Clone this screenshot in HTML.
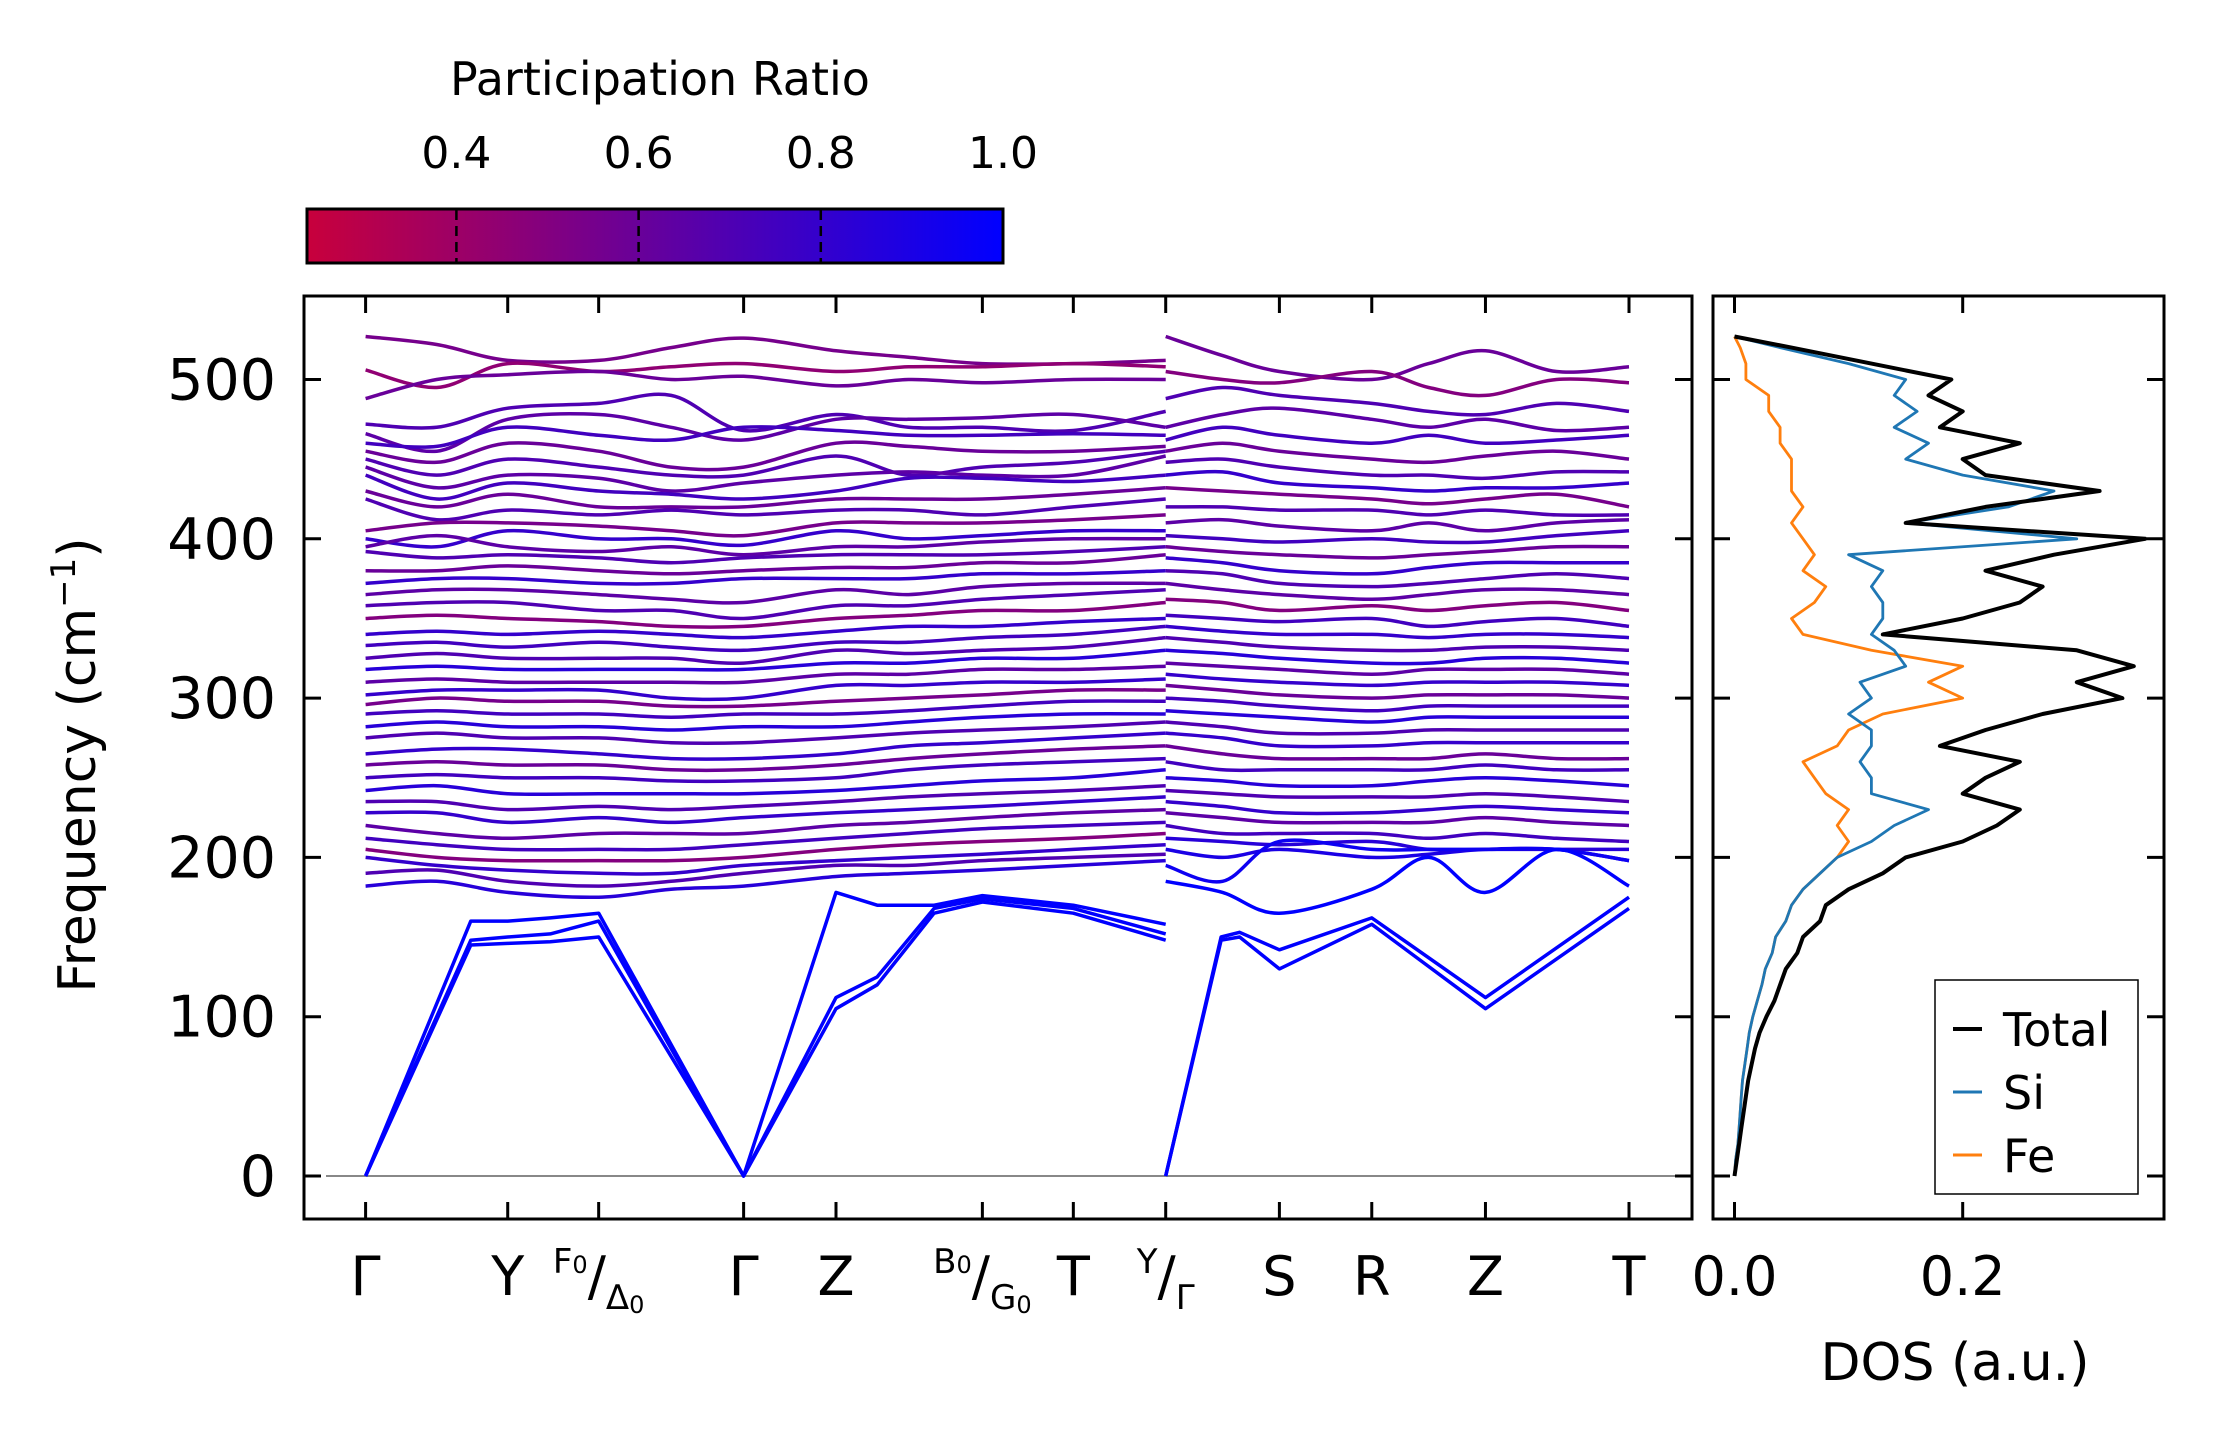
<!DOCTYPE html>
<html><head><meta charset="utf-8"><style>
html,body{margin:0;padding:0;background:#fff;}
svg{display:block;font-family:"DejaVu Sans","Liberation Sans",sans-serif;}
</style></head><body>
<svg id="fig" width="2222" height="1455" viewBox="0 0 2222 1455" xmlns="http://www.w3.org/2000/svg">
<defs>
<linearGradient id="cmap" x1="0" x2="1" y1="0" y2="0">
<stop offset="0" stop-color="rgb(200,0,60)"/><stop offset="1" stop-color="rgb(0,0,255)"/>
</linearGradient>
<clipPath id="clipMain"><rect x="304" y="296" width="1388" height="922"/></clipPath>
<clipPath id="clipDos"><rect x="1713" y="296" width="451" height="922"/></clipPath>
</defs>
<g id="colorbar">
<text x="660" y="95" font-size="46" text-anchor="middle">Participation Ratio</text>
<rect x="307" y="209" width="696" height="54" fill="url(#cmap)" stroke="#000" stroke-width="3"/>
<g id="cbTicks"></g>
</g>
<g id="bands" clip-path="url(#clipMain)"></g>
<g id="dos" clip-path="url(#clipDos)"></g>
<g id="axes"></g>
<text transform="translate(95,765) rotate(-90)" font-size="52" text-anchor="middle">Frequency (cm<tspan dy="-20" font-size="34">−1</tspan><tspan dy="20">)</tspan></text>
<text x="1955" y="1380" font-size="52" text-anchor="middle">DOS (a.u.)</text>
<g>
<rect x="1935" y="980" width="203" height="214" fill="#fff" stroke="#000" stroke-width="1.5"/>
<line x1="1953" y1="1029" x2="1982" y2="1029" stroke="#000" stroke-width="4"/>
<text x="2003" y="1046" font-size="46">Total</text>
<line x1="1953" y1="1092" x2="1982" y2="1092" stroke="#1f77b4" stroke-width="3"/>
<text x="2003" y="1109" font-size="46">Si</text>
<line x1="1953" y1="1155" x2="1982" y2="1155" stroke="#ff7f0e" stroke-width="3"/>
<text x="2003" y="1172" font-size="46">Fe</text>
</g>
</svg>
<script>
// ---------- data ----------
const yTicks = [0,100,200,300,400,500];
const dosTicks = [0.0,0.2];
const dosTickLabels = ["0.0","0.2"];
const cbTicks = [0.4,0.6,0.8,1.0];
const cbTickLabels = ["0.4","0.6","0.8","1.0"];
const kLabelsA = ["Γ","Y","F0/Δ0","Γ","Z","B0/G0","T","Y/Γ"];
const kLabelsB = ["S","R","Z","T"];
const kA = [0,0.5,1,1.64,2.15,2.66,3.31,3.82,4.34,4.98,5.63];
const kB = [5.63,6.03,6.43,7.08,7.48,7.88,8.38,8.89];
const kAcA = [0,0.74,1,1.3,1.64,2.66,3.31,3.6,4.0,4.34,4.98,5.63];
const kAcB = [5.63,6.02,6.15,6.43,7.08,7.88,8.89];
const bandsA = [
[527,522,512,512,520,526,518,514,510,510,512],
[506,495,510,505,508,510,505,508,508,510,508],
[488,500,503,505,500,502,496,500,498,500,500],
[472,470,482,485,490,468,478,470,470,468,480],
[466,455,475,478,470,462,475,475,476,478,470],
[460,458,470,465,462,470,468,465,465,466,465],
[455,448,460,455,445,445,460,458,455,455,458],
[450,440,450,445,440,440,452,440,445,448,455],
[445,432,440,438,430,435,440,442,440,440,452],
[440,425,435,430,428,425,430,438,438,436,440],
[430,420,428,420,420,420,425,425,425,428,432],
[425,412,418,415,418,415,418,418,415,420,425],
[405,410,410,408,405,402,410,410,410,412,415],
[400,395,405,400,400,396,405,400,402,405,405],
[395,402,395,392,395,390,395,395,398,400,400],
[392,388,390,388,385,388,390,390,390,392,395],
[380,380,383,380,378,380,382,382,385,385,390],
[372,375,375,372,372,375,375,375,378,378,380],
[365,368,368,365,362,360,368,365,370,372,372],
[358,360,360,355,355,350,358,358,362,365,368],
[350,352,350,348,345,345,350,352,355,355,360],
[340,342,340,342,340,338,342,345,345,348,350],
[333,335,332,335,332,330,335,335,338,340,345],
[325,328,325,325,325,322,330,328,330,332,338],
[318,320,318,318,318,318,322,322,325,325,330],
[310,312,310,310,310,310,315,315,318,318,320],
[302,305,305,305,300,300,308,308,310,310,312],
[296,300,298,298,295,295,298,300,302,305,305],
[290,292,290,290,288,290,290,292,295,298,298],
[282,285,282,282,280,282,282,285,288,290,290],
[275,278,275,275,272,272,275,278,280,282,285],
[265,268,268,265,262,262,265,270,272,275,278],
[258,260,258,258,255,255,258,262,265,268,270],
[250,252,250,250,248,248,250,255,258,260,262],
[242,245,240,240,240,240,242,245,248,250,255],
[235,235,230,232,230,232,235,238,240,242,245],
[228,228,222,225,222,225,228,230,232,235,238],
[220,215,212,215,215,215,220,222,225,228,230],
[212,208,205,205,205,208,212,215,218,220,222],
[205,200,198,198,198,200,205,208,210,212,215],
[200,195,192,190,190,195,198,200,202,205,208],
[190,192,185,182,185,190,195,195,198,200,202],
[182,185,178,175,180,182,188,190,192,195,198]
];
const prA = [0.55,0.45,0.6,0.7,0.65,0.75,0.6,0.7,0.65,0.75,0.6,0.7,0.55,0.8,0.65,0.7,0.6,0.8,0.65,0.7,0.5,0.8,0.75,0.7,0.85,0.65,0.8,0.55,0.75,0.85,0.7,0.8,0.6,0.75,0.85,0.7,0.8,0.65,0.75,0.5,0.8,0.7,0.85];
const acousticA = [
[0,145,146,147,150,0,105,120,165,172,165,148],
[0,148,150,152,160,0,112,125,168,174,168,152],
[0,160,160,162,165,0,178,170,170,176,170,158]
];
const bandsB = [
[527,515,505,500,510,518,505,508],
[505,500,498,505,495,490,500,498],
[488,495,490,485,480,478,485,480],
[470,478,482,475,470,475,468,470],
[462,470,465,460,465,460,462,465],
[455,460,455,450,448,452,455,450],
[448,450,445,440,440,438,442,442],
[440,442,435,432,430,432,432,435],
[432,430,428,425,422,425,428,420],
[420,420,418,418,415,418,415,415],
[410,412,408,405,410,405,410,412],
[402,400,398,400,398,398,402,405],
[395,392,390,388,390,392,395,395],
[388,385,380,378,382,385,385,385],
[380,378,372,370,372,375,378,375],
[372,368,365,362,365,368,368,365],
[362,360,355,358,355,358,360,355],
[352,350,348,350,345,348,350,345],
[345,342,340,340,338,340,340,338],
[338,335,332,330,330,332,332,330],
[330,328,325,322,322,325,325,322],
[322,320,318,315,318,318,318,315],
[315,312,310,308,310,310,310,308],
[308,305,302,300,302,302,302,300],
[300,298,295,292,295,295,295,295],
[292,290,288,285,288,288,288,288],
[285,282,278,278,280,280,280,280],
[278,275,270,270,272,272,272,272],
[270,265,262,262,262,265,262,262],
[260,255,255,255,255,258,255,255],
[250,248,245,245,248,250,248,245],
[242,240,238,238,238,240,238,235],
[235,232,228,228,230,232,230,228],
[228,225,222,222,222,225,222,220],
[220,215,215,215,212,215,212,210],
[212,210,208,210,205,205,205,205],
[205,200,205,200,202,205,205,198],
[195,185,210,205,205,205,205,198],
[185,178,165,180,200,178,205,182]
];
const prB = [0.6,0.5,0.7,0.65,0.75,0.6,0.7,0.8,0.55,0.7,0.65,0.75,0.6,0.8,0.7,0.65,0.5,0.75,0.8,0.7,0.85,0.65,0.8,0.6,0.75,0.85,0.7,0.8,0.6,0.75,0.85,0.7,0.8,0.65,0.75,0.85,0.9,0.95,1.0];
const acousticB = [
[0,148,150,130,158,105,168],
[0,150,153,142,162,112,175]
];
const dosFreq = [0,10,20,30,40,50,60,70,80,90,100,110,120,130,140,150,160,170,180,190,200,210,220,230,240,250,260,270,280,290,300,310,320,330,340,350,360,370,380,390,400,410,420,430,440,450,460,470,480,490,500,510,520,527];
const dosTotal = [0,0.002,0.004,0.006,0.008,0.01,0.012,0.015,0.018,0.022,0.028,0.035,0.04,0.045,0.055,0.06,0.075,0.08,0.1,0.13,0.15,0.2,0.23,0.25,0.2,0.22,0.25,0.18,0.22,0.27,0.34,0.3,0.35,0.3,0.13,0.2,0.25,0.27,0.22,0.28,0.36,0.15,0.22,0.32,0.22,0.2,0.25,0.18,0.2,0.17,0.19,0.12,0.05,0];
const dosSi = [0,0.001,0.003,0.004,0.005,0.006,0.007,0.009,0.011,0.013,0.016,0.02,0.024,0.027,0.033,0.036,0.045,0.05,0.06,0.075,0.09,0.12,0.14,0.17,0.12,0.12,0.11,0.12,0.12,0.1,0.12,0.11,0.15,0.14,0.12,0.13,0.13,0.12,0.13,0.1,0.3,0.15,0.24,0.28,0.2,0.15,0.17,0.14,0.16,0.14,0.15,0.1,0.04,0];
const dosFe = [0,0.001,0.003,0.004,0.005,0.006,0.007,0.009,0.011,0.013,0.016,0.02,0.024,0.027,0.033,0.036,0.045,0.05,0.06,0.075,0.09,0.1,0.09,0.1,0.08,0.07,0.06,0.09,0.1,0.13,0.2,0.17,0.2,0.12,0.06,0.05,0.07,0.08,0.06,0.07,0.06,0.05,0.06,0.05,0.05,0.05,0.04,0.04,0.03,0.03,0.01,0.01,0.005,0];

// ---------- scales ----------
const kMin = 0, kMax = 8.89;
const kx0 = 365.6, kx1 = 1629;
function xK(k){ return kx0 + (k-kMin)/(kMax-kMin)*(kx1-kx0); }
function yF(f){ return 1176 - f*1.593; }
function xD(d){ return 1734.5 + d*1141; }
function xCb(v){ return 307 + (v-0.236)/(1.0-0.236)*696; }
function prColor(p){ const t=Math.max(0,Math.min(1,(p-0.236)/(1-0.236)));
  return `rgb(${Math.round(200*(1-t))},0,${Math.round(60+195*t)})`; }
const NS="http://www.w3.org/2000/svg";
function mk(tag, attrs, parent){ const e=document.createElementNS(NS,tag); for(const a in attrs) e.setAttribute(a,attrs[a]); parent.appendChild(e); return e; }
function smoothPath(xs, ys){
  let d=`M${xs[0].toFixed(1)},${ys[0].toFixed(1)}`;
  for(let i=0;i<xs.length-1;i++){
    const x0=xs[Math.max(0,i-1)],y0=ys[Math.max(0,i-1)],x1=xs[i],y1=ys[i],x2=xs[i+1],y2=ys[i+1],x3=xs[Math.min(xs.length-1,i+2)],y3=ys[Math.min(xs.length-1,i+2)];
    const c1x=x1+(x2-x0)/6,c1y=y1+(y2-y0)/6,c2x=x2-(x3-x1)/6,c2y=y2-(y3-y1)/6;
    d+=` C${c1x.toFixed(1)},${c1y.toFixed(1)} ${c2x.toFixed(1)},${c2y.toFixed(1)} ${x2.toFixed(1)},${y2.toFixed(1)}`;
  }
  return d;
}
// ---------- bands ----------
const gB=document.getElementById('bands');
const zl=mk('line',{x1:326,x2:1692,y1:yF(0),y2:yF(0),stroke:'#888','stroke-width':2},gB);


bandsA.forEach((b,i)=>{
  const p=mk('path',{d:smoothPath(kA.map(xK),b.map(yF)),fill:'none',stroke:prColor(prA[i]),'stroke-width':3.5},gB);
  
  
});
bandsB.forEach((b,i)=>{
  const p=mk('path',{d:smoothPath(kB.map(xK),b.map(yF)),fill:'none',stroke:prColor(prB[i]),'stroke-width':3.5},gB);
  
  
});
acousticA.forEach((b,i)=>{
  const pts=b.map((v,j)=>`${xK(kAcA[j]).toFixed(1)},${yF(v).toFixed(1)}`).join(' ');
  const p=mk('polyline',{points:pts,fill:'none',stroke:'rgb(0,0,255)','stroke-width':3.5,'stroke-linejoin':'round'},gB);
  
  
});
acousticB.forEach((b,i)=>{
  const pts=b.map((v,j)=>`${xK(kAcB[j]).toFixed(1)},${yF(v).toFixed(1)}`).join(' ');
  const p=mk('polyline',{points:pts,fill:'none',stroke:'rgb(0,0,255)','stroke-width':3.5,'stroke-linejoin':'round'},gB);
  
  
});
// ---------- DOS ----------
const gD=document.getElementById('dos');
[[dosFe,'#ff7f0e',2.8,'dos-fe'],[dosSi,'#1f77b4',2.8,'dos-si'],[dosTotal,'#000',4,'dos-total']].forEach(s=>{
  const pts=s[0].map((v,i)=>`${xD(v).toFixed(1)},${yF(dosFreq[i]).toFixed(1)}`).join(' ');
  const pl=mk('polyline',{points:pts,fill:'none',stroke:s[1],'stroke-width':s[2],'stroke-linejoin':'round'},gD);
  
  
});
// ---------- axes ----------
const gA=document.getElementById('axes');
const AX_TOP=296, AX_BOT=1219, AX_L=304, AX_R=1692, D_L=1713, D_R=2164;
const f1=mk('rect',{x:AX_L,y:AX_TOP,width:AX_R-AX_L,height:AX_BOT-AX_TOP,fill:'none',stroke:'#000','stroke-width':3},gA);


const f2=mk('rect',{x:D_L,y:AX_TOP,width:D_R-D_L,height:AX_BOT-AX_TOP,fill:'none',stroke:'#000','stroke-width':3},gA);


yTicks.forEach(t=>{
  const y=yF(t);
  mk('line',{x1:AX_L,x2:AX_L+17,y1:y,y2:y,stroke:'#000','stroke-width':3},gA);
  mk('line',{x1:AX_R-17,x2:AX_R,y1:y,y2:y,stroke:'#000','stroke-width':3},gA);
  mk('line',{x1:D_L,x2:D_L+17,y1:y,y2:y,stroke:'#000','stroke-width':3},gA);
  mk('line',{x1:D_R-17,x2:D_R,y1:y,y2:y,stroke:'#000','stroke-width':3},gA);
  const tx=mk('text',{x:276,y:y+20,'font-size':57,'text-anchor':'end'},gA);
  tx.textContent=t;
  
  
});
const kTickK=[0,1,1.64,2.66,3.31,4.34,4.98,5.63,6.43,7.08,7.88,8.89];
kTickK.forEach(k=>{
  const x=xK(k);
  mk('line',{x1:x,x2:x,y1:AX_BOT,y2:AX_BOT-17,stroke:'#000','stroke-width':3},gA);
  mk('line',{x1:x,x2:x,y1:AX_TOP,y2:AX_TOP+17,stroke:'#000','stroke-width':3},gA);
});
const LBL_Y=1295;
function simpleLabel(k,txt,name){
  const t=mk('text',{x:xK(k),y:LBL_Y,'font-size':54,'text-anchor':'middle'},gA);
  t.textContent=txt;
  
  
}
function slashLabel(k,a,b,name){
  const g=mk('text',{x:xK(k),y:LBL_Y,'font-size':54,'text-anchor':'middle'},gA);
  
  
  const t1=mk('tspan',{'font-size':34,dy:-22},g); t1.textContent=a.charAt(0);
  if(a.length>1){const s=mk('tspan',{'font-size':24,dy:0},g); s.textContent=a.slice(1);}
  const t2=mk('tspan',{'font-size':54,dy:22},g); t2.textContent='/';
  const t3=mk('tspan',{'font-size':34,dy:14},g); t3.textContent=b.charAt(0);
  if(b.length>1){const s=mk('tspan',{'font-size':24,dy:4},g); s.textContent=b.slice(1);}
}
simpleLabel(0,kLabelsA[0],'k-label-gamma-1');
simpleLabel(1,kLabelsA[1],'k-label-y');
slashLabel(1.64,'F0','Δ0','k-label-f0-delta0');
simpleLabel(2.66,kLabelsA[3],'k-label-gamma-2');
simpleLabel(3.31,kLabelsA[4],'k-label-z-1');
slashLabel(4.34,'B0','G0','k-label-b0-g0');
simpleLabel(4.98,kLabelsA[6],'k-label-t-1');
slashLabel(5.63,'Y','Γ','k-label-y-gamma');
simpleLabel(6.43,kLabelsB[0],'k-label-s');
simpleLabel(7.08,kLabelsB[1],'k-label-r');
simpleLabel(7.88,kLabelsB[2],'k-label-z-2');
simpleLabel(8.89,kLabelsB[3],'k-label-t-2');
dosTicks.forEach((d,i)=>{
  const x=xD(d);
  mk('line',{x1:x,x2:x,y1:AX_BOT,y2:AX_BOT-17,stroke:'#000','stroke-width':3},gA);
  mk('line',{x1:x,x2:x,y1:AX_TOP,y2:AX_TOP+17,stroke:'#000','stroke-width':3},gA);
  const t=mk('text',{x:x,y:LBL_Y,'font-size':54,'text-anchor':'middle'},gA);
  t.textContent=dosTickLabels[i];
  
  
});
// colorbar ticks
const gC=document.getElementById('cbTicks');
cbTicks.forEach((v,i)=>{
  const x=xCb(v);
  if(v<1){ mk('line',{x1:x,x2:x,y1:210,y2:262,stroke:'#000','stroke-width':2.5,'stroke-dasharray':'10,6'},gC); }
  const t=mk('text',{x:x,y:168,'font-size':44,'text-anchor':'middle'},gC);
  t.textContent=cbTickLabels[i];
  
  
});
</script>
</body></html>
